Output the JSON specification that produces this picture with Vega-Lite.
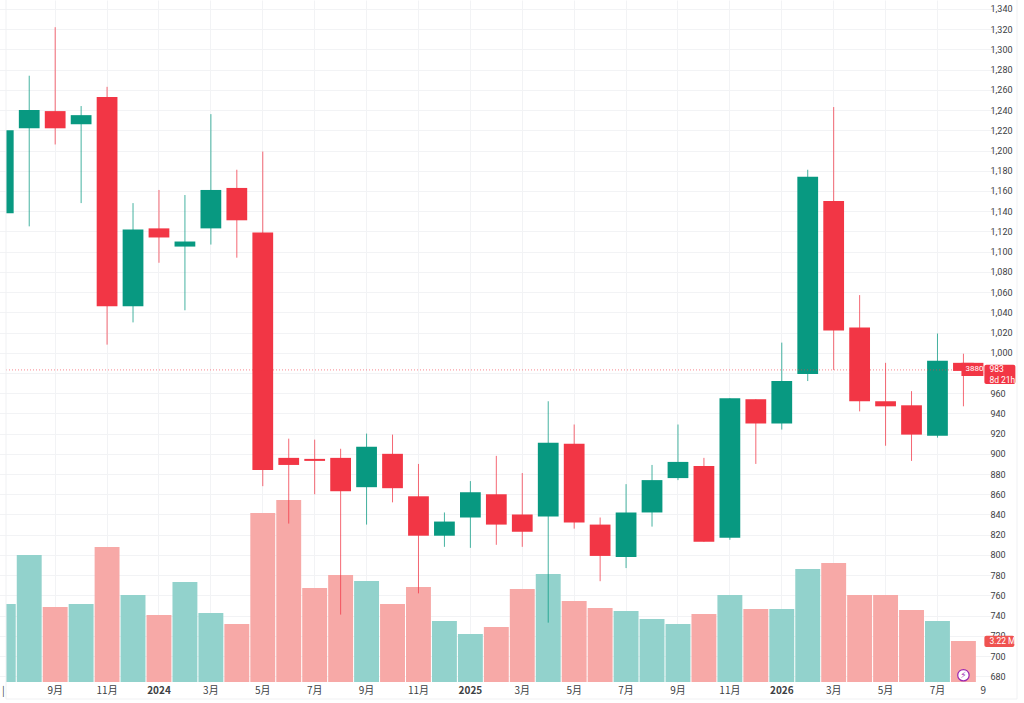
{
  "$schema": "https://vega.github.io/schema/vega-lite/v6.json",
  "width": 978,
  "height": 682,
  "autosize": "none",
  "padding": {"left": 6, "top": 0, "right": 40, "bottom": 21},
  "background": "white",
  "datasets": {
    "candles": [
      {"month":"2023-07","open":1138,"close":1220,"high":1220,"low":1138,"volume":6.13,"dir":"up"},
      {"month":"2023-08","open":1222,"close":1240,"high":1274,"low":1125,"volume":9.98,"dir":"up"},
      {"month":"2023-09","open":1239,"close":1222,"high":1322,"low":1206,"volume":5.89,"dir":"down"},
      {"month":"2023-10","open":1226,"close":1235,"high":1244,"low":1148,"volume":6.13,"dir":"up"},
      {"month":"2023-11","open":1253,"close":1046,"high":1263,"low":1008,"volume":10.6,"dir":"down"},
      {"month":"2023-12","open":1046,"close":1122,"high":1148,"low":1030,"volume":6.83,"dir":"up"},
      {"month":"2024-01","open":1123,"close":1114,"high":1161,"low":1089,"volume":5.26,"dir":"down"},
      {"month":"2024-02","open":1105,"close":1110,"high":1156,"low":1042,"volume":7.86,"dir":"up"},
      {"month":"2024-03","open":1123,"close":1161,"high":1236,"low":1107,"volume":5.42,"dir":"up"},
      {"month":"2024-04","open":1163,"close":1131,"high":1181,"low":1094,"volume":4.56,"dir":"down"},
      {"month":"2024-05","open":1119,"close":884,"high":1199,"low":868,"volume":13.28,"dir":"down"},
      {"month":"2024-06","open":896,"close":889,"high":915,"low":831,"volume":14.3,"dir":"down"},
      {"month":"2024-07","open":895,"close":893,"high":914,"low":860,"volume":7.38,"dir":"down"},
      {"month":"2024-08","open":896,"close":863,"high":905,"low":741,"volume":8.41,"dir":"down"},
      {"month":"2024-09","open":867,"close":907,"high":920,"low":830,"volume":7.93,"dir":"up"},
      {"month":"2024-10","open":900,"close":866,"high":919,"low":852,"volume":6.13,"dir":"down"},
      {"month":"2024-11","open":858,"close":819,"high":890,"low":762,"volume":7.46,"dir":"down"},
      {"month":"2024-12","open":819,"close":833,"high":842,"low":808,"volume":4.79,"dir":"up"},
      {"month":"2025-01","open":837,"close":862,"high":873,"low":807,"volume":3.77,"dir":"up"},
      {"month":"2025-02","open":860,"close":830,"high":898,"low":810,"volume":4.32,"dir":"down"},
      {"month":"2025-03","open":840,"close":823,"high":881,"low":808,"volume":7.31,"dir":"down"},
      {"month":"2025-04","open":838,"close":911,"high":952,"low":733,"volume":8.48,"dir":"up"},
      {"month":"2025-05","open":910,"close":832,"high":929,"low":826,"volume":6.36,"dir":"down"},
      {"month":"2025-06","open":830,"close":799,"high":837,"low":774,"volume":5.81,"dir":"down"},
      {"month":"2025-07","open":798,"close":842,"high":870,"low":787,"volume":5.58,"dir":"up"},
      {"month":"2025-08","open":842,"close":874,"high":889,"low":828,"volume":4.95,"dir":"up"},
      {"month":"2025-09","open":876,"close":892,"high":929,"low":874,"volume":4.56,"dir":"up"},
      {"month":"2025-10","open":888,"close":813,"high":896,"low":813,"volume":5.34,"dir":"down"},
      {"month":"2025-11","open":817,"close":955,"high":955,"low":815,"volume":6.83,"dir":"up"},
      {"month":"2025-12","open":954,"close":930,"high":954,"low":890,"volume":5.73,"dir":"down"},
      {"month":"2026-01","open":930,"close":972,"high":1010,"low":924,"volume":5.73,"dir":"up"},
      {"month":"2026-02","open":979,"close":1174,"high":1181,"low":972,"volume":8.88,"dir":"up"},
      {"month":"2026-03","open":1150,"close":1022,"high":1243,"low":983,"volume":9.35,"dir":"down"},
      {"month":"2026-04","open":1025,"close":952,"high":1057,"low":942,"volume":6.83,"dir":"down"},
      {"month":"2026-05","open":952,"close":947,"high":990,"low":908,"volume":6.83,"dir":"down"},
      {"month":"2026-06","open":948,"close":919,"high":962,"low":893,"volume":5.66,"dir":"down"},
      {"month":"2026-07","open":918,"close":992,"high":1019,"low":916,"volume":4.79,"dir":"up"},
      {"month":"2026-08","open":990,"close":982,"high":999,"low":947,"volume":3.22,"dir":"down"}
    ]
  },
  "data": {"name": "candles"},
  "encoding": {
    "x": {
      "field": "month",
      "type": "ordinal",
      "sort": null,
      "scale": {
        "type": "band",
        "paddingInner": 0,
        "paddingOuter": 0,
        "range": [-15.7, 996.35],
        "domain": ["2023-07","2023-08","2023-09","2023-10","2023-11","2023-12","2024-01","2024-02","2024-03","2024-04","2024-05","2024-06","2024-07","2024-08","2024-09","2024-10","2024-11","2024-12","2025-01","2025-02","2025-03","2025-04","2025-05","2025-06","2025-07","2025-08","2025-09","2025-10","2025-11","2025-12","2026-01","2026-02","2026-03","2026-04","2026-05","2026-06","2026-07","2026-08","2026-09"]
      },
      "axis": {
        "title": null,
        "values": ["2023-07","2023-09","2023-11","2024-01","2024-03","2024-05","2024-07","2024-09","2024-11","2025-01","2025-03","2025-05","2025-07","2025-09","2025-11","2026-01","2026-03","2026-05","2026-07","2026-09"],
        "labelExpr": "datum.value=='2023-07'?'|':datum.value=='2026-09'?'9':slice(datum.value,5)=='01'?slice(datum.value,0,4):toNumber(slice(datum.value,5))+'月'",
        "labelAngle": 0,
        "labelOverlap": false,
        "labelBound": false,
        "labelFlush": false,
        "labelFont": "Noto Sans CJK SC",
        "labelFontSize": 10,
        "labelColor": "#3c4043",
        "labelPadding": 3,
        "labelFontWeight": {"condition": {"test": "slice(datum.value,5)=='01'", "value": "bold"}, "value": "normal"},
        "labelOffset": {"condition": {"test": "datum.value=='2026-09'", "value": -6}, "value": 0},
        "ticks": false,
        "tickSize": 0,
        "domain": false,
        "grid": true,
        "gridColor": "#f2f3f5",
        "gridOpacity": {"condition": {"test": "datum.value=='2023-07'||datum.value=='2026-09'", "value": 0}, "value": 1}
      }
    }
  },
  "layer": [
    {
      "mark": {"type": "rule", "opacity": 0},
      "encoding": {
        "y": {
          "field": "low",
          "type": "quantitative",
          "scale": {"domain": [674.3, 1348.9], "nice": false, "zero": false},
          "axis": {
            "title": null,
            "orient": "right",
            "values": [680,700,720,740,760,780,800,820,840,860,880,900,920,940,960,980,1000,1020,1040,1060,1080,1100,1120,1140,1160,1180,1200,1220,1240,1260,1280,1300,1320,1340],
            "labelExpr": "datum.value==980?'':format(datum.value,',.0f')",
            "labelFont": "Roboto",
            "labelFontSize": 9,
            "labelColor": "#3c4043",
            "labelPadding": 6,
            "labelBound": false,
            "labelFlush": false,
            "labelOverlap": false,
            "ticks": false,
            "tickSize": 0,
            "domain": false,
            "grid": true,
            "gridColor": "#f2f3f5"
          }
        }
      }
    },
    {
      "mark": {"type": "bar", "width": {"band": 0.96}, "clip": true},
      "encoding": {
        "y": {
          "field": "volume",
          "type": "quantitative",
          "scale": {"domain": [0, 53.57], "nice": false, "zero": false},
          "axis": null
        },
        "color": {
          "field": "dir",
          "type": "nominal",
          "scale": {"domain": ["up", "down"], "range": ["#92d2cc", "#f7a9a7"]},
          "legend": null
        }
      }
    },
    {
      "layer": [
        {
          "mark": {"type": "rule", "strokeWidth": 1, "opacity": 0.75, "clip": true},
          "encoding": {
            "y": {
              "field": "low",
              "type": "quantitative",
              "scale": {"domain": [674.3, 1348.9], "nice": false, "zero": false},
              "axis": null
            },
            "y2": {"field": "high"},
            "stroke": {
              "field": "dir",
              "type": "nominal",
              "scale": {"domain": ["up", "down"], "range": ["#089981", "#f23645"]},
              "legend": null
            }
          }
        },
        {
          "mark": {"type": "bar", "width": {"band": 0.8}, "clip": true},
          "encoding": {
            "y": {
              "field": "open",
              "type": "quantitative",
              "scale": {"domain": [674.3, 1348.9], "nice": false, "zero": false},
              "axis": null
            },
            "y2": {"field": "close"},
            "color": {"value": null},
            "fill": {
              "field": "dir",
              "type": "nominal",
              "scale": {"domain": ["up", "down"], "range": ["#089981", "#f23645"]},
              "legend": null
            }
          }
        },
        {
          "data": {"values": [{"price": 983}]},
          "mark": {"type": "rule", "strokeDash": [1, 2], "strokeWidth": 1, "color": "#f23645", "opacity": 0.6},
          "encoding": {
            "x": {"value": 0},
            "x2": {"value": 978},
            "y": {
              "field": "price",
              "type": "quantitative",
              "scale": {"domain": [674.3, 1348.9], "nice": false, "zero": false},
              "axis": null
            }
          }
        },
        {
          "data": {"values": [{"month": "2026-08", "top": 990, "bottom": 977}]},
          "mark": {"type": "bar", "width": 22, "xOffset": 9, "color": "#f23645", "clip": false},
          "encoding": {
            "y": {
              "field": "top",
              "type": "quantitative",
              "scale": {"domain": [674.3, 1348.9], "nice": false, "zero": false},
              "axis": null
            },
            "y2": {"field": "bottom"}
          }
        },
        {
          "data": {"values": [{"month": "2026-09", "top": 988, "bottom": 969}]},
          "mark": {"type": "bar", "width": 31, "xOffset": 10.5, "color": "#f23645", "cornerRadius": 2, "clip": false},
          "encoding": {
            "y": {
              "field": "top",
              "type": "quantitative",
              "scale": {"domain": [674.3, 1348.9], "nice": false, "zero": false},
              "axis": null
            },
            "y2": {"field": "bottom"}
          }
        },
        {
          "data": {"values": [{"month": "2026-09", "top": 720, "bottom": 709}]},
          "mark": {"type": "bar", "width": 30, "xOffset": 10, "color": "#ef5350", "cornerRadius": 2, "clip": false},
          "encoding": {
            "y": {
              "field": "top",
              "type": "quantitative",
              "scale": {"domain": [674.3, 1348.9], "nice": false, "zero": false},
              "axis": null
            },
            "y2": {"field": "bottom"}
          }
        },
        {
          "data": {"values": [{"month": "2026-08", "price": 983.5, "label": "3880"}]},
          "mark": {"type": "text", "align": "left", "baseline": "middle", "dx": 2, "font": "Roboto", "fontSize": 8, "color": "white", "clip": false},
          "encoding": {
            "y": {
              "field": "price",
              "type": "quantitative",
              "scale": {"domain": [674.3, 1348.9], "nice": false, "zero": false},
              "axis": null
            },
            "text": {"field": "label"}
          }
        },
        {
          "data": {"values": [
            {"month": "2026-09", "price": 984, "label": "983"},
            {"month": "2026-09", "price": 973.5, "label": "8d 21h"},
            {"month": "2026-09", "price": 714.5, "label": "3.22 M"}
          ]},
          "mark": {"type": "text", "align": "left", "baseline": "middle", "font": "Roboto", "fontSize": 8.5, "color": "white", "clip": false},
          "encoding": {
            "y": {
              "field": "price",
              "type": "quantitative",
              "scale": {"domain": [674.3, 1348.9], "nice": false, "zero": false},
              "axis": null
            },
            "text": {"field": "label"}
          }
        },
        {
          "data": {"values": [{"month": "2026-08", "price": 681}]},
          "mark": {"type": "point", "shape": "circle", "size": 130, "fill": "white", "stroke": "#9c27b0", "strokeWidth": 1.2, "opacity": 1, "filled": false},
          "encoding": {
            "y": {
              "field": "price",
              "type": "quantitative",
              "scale": {"domain": [674.3, 1348.9], "nice": false, "zero": false},
              "axis": null
            }
          }
        },
        {
          "data": {"values": [{"month": "2026-08", "price": 681, "label": "⚡"}]},
          "mark": {"type": "text", "align": "center", "baseline": "middle", "font": "DejaVu Sans", "fontSize": 9, "color": "#9c27b0"},
          "encoding": {
            "y": {
              "field": "price",
              "type": "quantitative",
              "scale": {"domain": [674.3, 1348.9], "nice": false, "zero": false},
              "axis": null
            },
            "text": {"field": "label"}
          }
        },
        {
          "data": {"values": [{"edge": "bottom"}]},
          "mark": {"type": "rule", "color": "#f0f1f3", "strokeWidth": 1, "clip": false},
          "encoding": {
            "x": {"value": 0},
            "x2": {"value": 1011},
            "y": {"value": 699}
          }
        },
        {
          "data": {"values": [{"edge": "right"}]},
          "mark": {"type": "rule", "color": "#f0f1f3", "strokeWidth": 1, "clip": false},
          "encoding": {
            "x": {"value": 1011},
            "y": {"value": 0},
            "y2": {"value": 699}
          }
        },
        {
          "data": {"values": [{"edge": "left"}]},
          "mark": {"type": "rule", "color": "#f0f1f3", "strokeWidth": 1, "clip": false},
          "encoding": {
            "x": {"value": 0},
            "y": {"value": 0},
            "y2": {"value": 699}
          }
        }
      ]
    }
  ],
  "resolve": {"scale": {"y": "independent", "color": "independent"}},
  "config": {"view": {"stroke": null}}
}
